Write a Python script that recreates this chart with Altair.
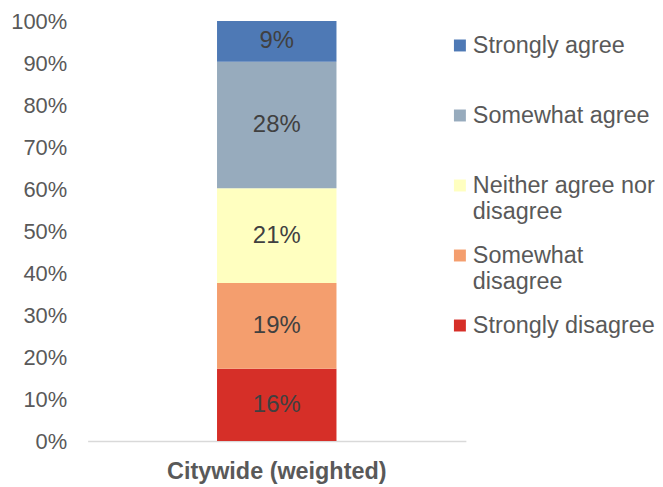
import altair as alt
import pandas as pd

categories = ["Strongly disagree", "Somewhat disagree", "Neither agree nor disagree", "Somewhat agree", "Strongly agree"]
legend_labels = ["Strongly disagree", "Somewhat\ndisagree", "Neither agree nor\ndisagree", "Somewhat agree", "Strongly agree"]
values = [16, 19, 21, 28, 9]
stack_order = [0, 1, 2, 3, 4]
group = "Citywide (weighted)"
legend_order = ["Strongly agree", "Somewhat agree", "Neither agree nor disagree", "Somewhat disagree", "Strongly disagree"]
colors = ["#4e79b5", "#97abbd", "#ffffc0", "#f49e6e", "#d62f28"]
tick_values = [0, 0.1, 0.2, 0.3, 0.4, 0.5, 0.6, 0.7, 0.8, 0.9, 1.0]

df = pd.DataFrame({
    "category": categories,
    "legend_label": legend_labels,
    "value": values,
    "order": stack_order,
    "group": [group] * len(categories),
})

color = alt.Color("category:N", scale=alt.Scale(domain=legend_order, range=colors), legend=None)

base = alt.Chart(df).transform_stack(
    stack="value", groupby=["group"], as_=["y0", "y1"], offset="normalize",
    sort=[alt.SortField("order", order="ascending")]
).transform_calculate(mid="(datum.y0 + datum.y1) / 2", lbl="datum.value + '%'")

yscale = alt.Scale(domain=[0, 1])
yaxis = alt.Axis(format=".0%", values=tick_values, grid=False, domain=False,
                 ticks=False, labelFontSize=22, labelColor="#595959", labelPadding=21)

bars = base.mark_bar(size=120).encode(
    x=alt.X("group:N", title=None,
            axis=alt.Axis(labelFontWeight="bold", labelFontSize=23.5, labelColor="#595959",
                          labelPadding=19, ticks=False, domainColor="#d9d9d9", domainWidth=1.5,
                          labelAngle=0, labelLimit=500)),
    y=alt.Y("y0:Q", scale=yscale, title=None, axis=yaxis),
    y2="y1:Q",
    color=color,
)

texts = base.mark_text(fontSize=24, color="#404040", baseline="middle").encode(
    x=alt.X("group:N", title=None),
    y=alt.Y("mid:Q", scale=yscale, title=None, axis=yaxis),
    text="lbl:N",
)

legend_y = alt.Y("category:N", sort=legend_order, axis=None,
                 scale=alt.Scale(type="point", padding=1.0916, align=0.1745))

legend_sq = alt.Chart(df).mark_square(size=144, opacity=1).encode(
    x=alt.value(374),
    y=legend_y,
    color=color,
)

legend_txt = alt.Chart(df).mark_text(align="left", baseline="alphabetic", dy=8, fontSize=23.5,
                                     lineHeight=26, lineBreak="\n", color="#595959").encode(
    x=alt.value(387),
    y=legend_y,
    text="legend_label:N",
)

chart = (
    alt.layer(alt.layer(bars, texts), legend_sq, legend_txt)
    .resolve_scale(y="independent")
    .properties(width=380, height=422, padding={"left": 2, "top": 1, "right": 0, "bottom": 0})
    .configure(font="Liberation Sans")
    .configure_view(strokeWidth=0)
)

chart.save("out.html", embed_options={"renderer": "svg", "actions": False})
